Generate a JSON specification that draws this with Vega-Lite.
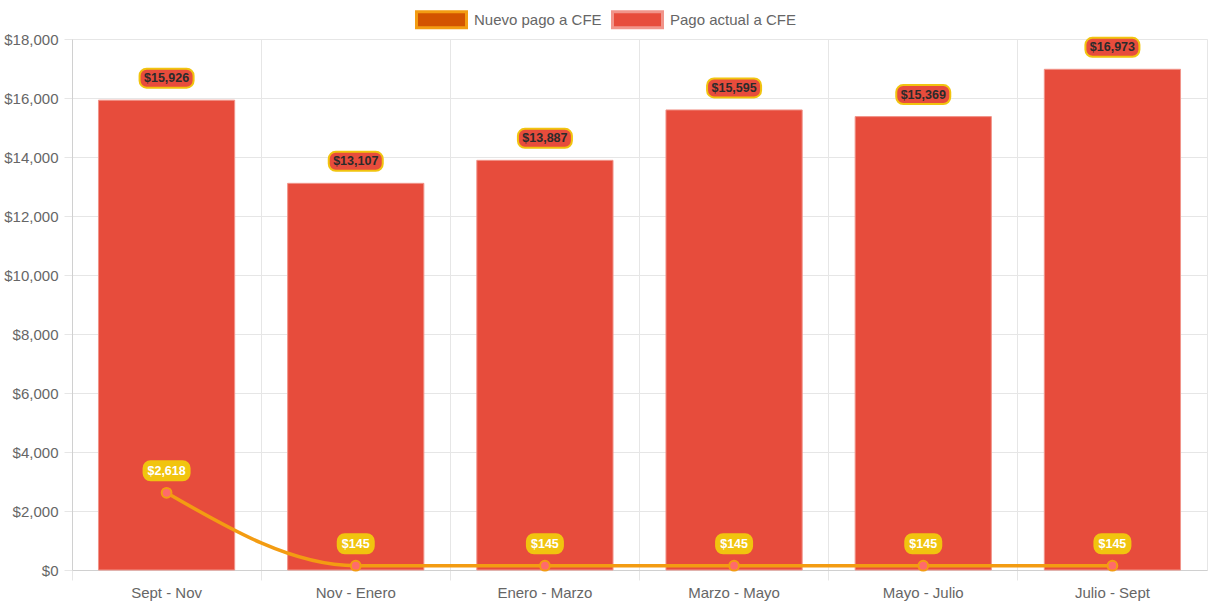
{
  "$schema": "https://vega.github.io/schema/vega-lite/v6.json",
  "width": 1135,
  "height": 531,
  "autosize": {"type": "none"},
  "padding": {"left": 72, "top": 39, "right": 6, "bottom": 36},
  "background": "white",
  "config": {
    "font": "Liberation Sans",
    "view": {"stroke": "#e6e6e6"},
    "axis": {
      "labelFont": "Liberation Sans",
      "labelFontSize": 15,
      "labelColor": "#666666",
      "gridColor": "#e6e6e6",
      "tickColor": "#e6e6e6",
      "domainColor": "#d0d0d0",
      "title": null
    }
  },
  "data": {
    "values": [
      {"periodo": "Sept - Nov", "serie": "Pago actual a CFE", "pago": 15926},
      {"periodo": "Nov - Enero", "serie": "Pago actual a CFE", "pago": 13107},
      {"periodo": "Enero - Marzo", "serie": "Pago actual a CFE", "pago": 13887},
      {"periodo": "Marzo - Mayo", "serie": "Pago actual a CFE", "pago": 15595},
      {"periodo": "Mayo - Julio", "serie": "Pago actual a CFE", "pago": 15369},
      {"periodo": "Julio - Sept", "serie": "Pago actual a CFE", "pago": 16973},
      {"periodo": "Sept - Nov", "serie": "Nuevo pago a CFE", "pago": 2618},
      {"periodo": "Nov - Enero", "serie": "Nuevo pago a CFE", "pago": 145},
      {"periodo": "Enero - Marzo", "serie": "Nuevo pago a CFE", "pago": 145},
      {"periodo": "Marzo - Mayo", "serie": "Nuevo pago a CFE", "pago": 145},
      {"periodo": "Mayo - Julio", "serie": "Nuevo pago a CFE", "pago": 145},
      {"periodo": "Julio - Sept", "serie": "Nuevo pago a CFE", "pago": 145}
    ]
  },
  "encoding": {
    "x": {
      "field": "periodo",
      "type": "nominal",
      "sort": null,
      "scale": {"paddingInner": 0, "paddingOuter": 0},
      "axis": {
        "labelAngle": 0,
        "bandPosition": 0,
        "grid": true,
        "tickSize": 10,
        "labelPadding": 5,
        "domainColor": "#d0d0d0"
      }
    },
    "y": {
      "field": "pago",
      "type": "quantitative",
      "scale": {"domain": [0, 18000], "nice": false},
      "axis": {
        "values": [0, 2000, 4000, 6000, 8000, 10000, 12000, 14000, 16000, 18000],
        "format": "$,.0f",
        "tickSize": 8,
        "labelPadding": 6,
        "grid": true
      }
    }
  },
  "layer": [
    {
      "transform": [{"filter": "datum.serie === 'Pago actual a CFE'"}],
      "mark": {"type": "bar", "width": {"band": 0.72}, "strokeWidth": 1},
      "encoding": {
        "color": {
          "field": "serie",
          "type": "nominal",
          "scale": {"domain": ["Nuevo pago a CFE", "Pago actual a CFE"], "range": ["#d35400", "#e74c3c"]},
          "legend": {
            "orient": "none",
            "legendX": 362,
            "legendY": -27,
            "direction": "horizontal",
            "title": null,
            "symbolType": "M-25,-8H25V8H-25Z",
            "symbolSize": 4,
            "symbolStrokeWidth": 3,
            "symbolOpacity": 1,
            "labelOffset": 25,
            "columnPadding": 4,
            "labelFontSize": 15,
            "labelColor": "#666666",
            "labelFont": "Liberation Sans"
          }
        },
        "stroke": {
          "field": "serie",
          "type": "nominal",
          "scale": {"domain": ["Nuevo pago a CFE", "Pago actual a CFE"], "range": ["#f39c12", "#f1948a"]}
        }
      }
    },
    {
      "transform": [{"filter": "datum.serie === 'Pago actual a CFE'"}],
      "mark": {
        "type": "point",
        "shape": "M-20,-9.5H20A7,7 0 0 1 27,-2.5V2.5A7,7 0 0 1 20,9.5H-20A7,7 0 0 1 -27,2.5V-2.5A7,7 0 0 1 -20,-9.5Z",
        "size": 4,
        "filled": true,
        "fill": "#e74c3c",
        "stroke": "#f1c40f",
        "strokeWidth": 2,
        "opacity": 1,
        "yOffset": -22
      },
      "encoding": {}
    },
    {
      "transform": [{"filter": "datum.serie === 'Pago actual a CFE'"}],
      "mark": {
        "type": "text",
        "font": "Liberation Sans",
        "fontWeight": "bold",
        "fontSize": 12.5,
        "color": "#2b2b2b",
        "baseline": "middle",
        "align": "center",
        "dy": -22
      },
      "encoding": {"text": {"field": "pago", "type": "quantitative", "format": "$,.0f"}}
    },
    {
      "transform": [{"filter": "datum.serie === 'Nuevo pago a CFE'"}],
      "mark": {"type": "line", "stroke": "#f39c12", "strokeWidth": 3.5, "interpolate": "monotone"},
      "encoding": {}
    },
    {
      "transform": [{"filter": "datum.serie === 'Nuevo pago a CFE'"}],
      "mark": {
        "type": "point",
        "shape": "circle",
        "size": 95,
        "filled": true,
        "fill": "#ff6b6b",
        "stroke": "#f39c12",
        "strokeWidth": 2,
        "opacity": 1
      },
      "encoding": {}
    },
    {
      "transform": [{"filter": "datum.serie === 'Nuevo pago a CFE'"}],
      "mark": {
        "type": "point",
        "size": 4,
        "filled": true,
        "fill": "#f1c40f",
        "stroke": "#f1c40f",
        "strokeWidth": 2,
        "opacity": 1,
        "yOffset": -22
      },
      "encoding": {
        "shape": {
          "condition": {
            "test": "datum.pago > 1000",
            "value": "M-16,-9.5H16A7,7 0 0 1 23,-2.5V2.5A7,7 0 0 1 16,9.5H-16A7,7 0 0 1 -23,2.5V-2.5A7,7 0 0 1 -16,-9.5Z"
          },
          "value": "M-11,-9.5H11A7,7 0 0 1 18,-2.5V2.5A7,7 0 0 1 11,9.5H-11A7,7 0 0 1 -18,2.5V-2.5A7,7 0 0 1 -11,-9.5Z"
        }
      }
    },
    {
      "transform": [{"filter": "datum.serie === 'Nuevo pago a CFE'"}],
      "mark": {
        "type": "text",
        "font": "Liberation Sans",
        "fontWeight": "bold",
        "fontSize": 12.5,
        "color": "white",
        "baseline": "middle",
        "align": "center",
        "dy": -22
      },
      "encoding": {"text": {"field": "pago", "type": "quantitative", "format": "$,.0f"}}
    }
  ]
}
